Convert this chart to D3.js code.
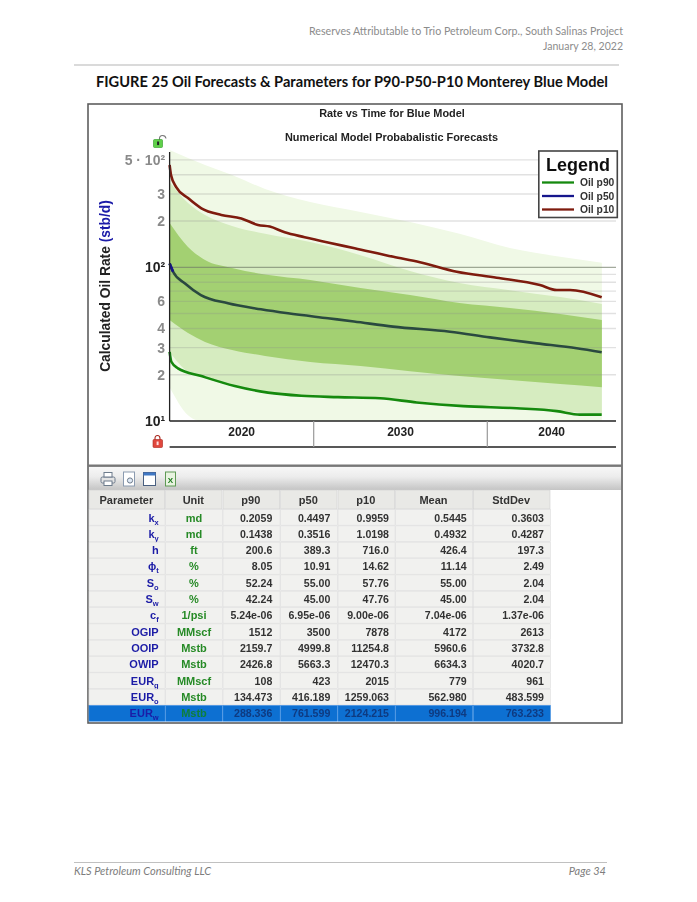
<!DOCTYPE html>
<html><head><meta charset="utf-8">
<script src="https://cdn.jsdelivr.net/npm/d3@7"></script>
<style>html,body{margin:0;padding:0;background:#fff}svg{display:block}
text{font-family:"Liberation Sans",Arial,sans-serif}
.doc{font-family:Lato,"Open Sans",sans-serif}</style></head><body>
<script>
// ---- series data (calendar year, stb/d)
const p10Years=[2021.7,2021.78,2022.09,2022.76,2023.53,2024.68,2025.83,2026.79,2027.47,2028.33,2029.48,2030.82,2032.36,2034.59,2036.12,2038.24,2040.54,2043.03,2044.0,2044.77,2046.59];
const p10Rates=[463,399,331,282,242,219,208,188.5,184,169,157,145,133,117,108,93.6,85.6,76.7,71.2,71.2,63.8];
const p50Years=[2021.7,2021.9,2022.57,2023.5,2025.06,2026.96,2028.52,2030.82,2032.32,2034.57,2037.85,2040.15,2042.85,2045.15,2046.59];
const p50Rates=[106,93.6,78.7,66,58.3,53.3,50.2,46.6,44.4,41.1,38.1,35,32,29.7,28];
const p90Years=[2021.7,2021.8,2022.18,2023.53,2025.45,2027.37,2029.29,2031.4,2033.82,2035.93,2038.62,2041.69,2044,2045.33,2046.59];
const p90Rates=[28.2,24.3,22,19.6,16.9,15.3,14.6,14.3,14.05,13.2,12.5,12.1,11.6,11,11];
// ---- envelope bands
const bandYears=[2021.7,2022.76,2023.74,2025.3,2027.2,2029.8,2032.7,2035.55,2038.4,2041.3,2044.2,2046.6];
const outerTop=[580,514,463,399,323,266,229,197,165,133.5,117,107];
const outerBottom=[16.6,10.9,9.7,9,8.5,8.2,8,7.8,7.6,7.4,7.2,7];
const midTop=[359,262,219,186,165,146,120,94.6,79,71,64,57.7];
const midBottom=[28.1,20.8,19,17.1,15.7,14.5,14.3,13.5,12.7,12.2,11.6,10.9];
const coreTop=[194,135.6,111.6,99,89.8,82.7,73.3,66,58.6,54.4,49.7,45.4];
const coreBottom=[45.4,37.4,32.7,29,26.5,24.2,22.8,21.1,19.6,18.5,17.4,16.6];
// ---- axes
const gridRates=[500,400,300,200,100,90,80,70,60,50,40,30,20];
const yTickValues=[500,300,200,100,60,40,30,20,10];
const yTickLabels=["5 · 10²","3","2","10²","6","4","3","2","10¹"];
const xBoundaries=[2030,2040];
const xLabels=["2020","2030","2040"];
// ---- table
const tableHeaders=["Parameter","Unit","p90","p50","p10","Mean","StdDev"];
const paramNames=["k","k","h","ϕ","S","S","c","OGIP","OOIP","OWIP","EUR","EUR","EUR"];
const paramSubs=["x","y","","t","o","w","f","","","","g","o","w"];
const units=["md","md","ft","%","%","%","1/psi","MMscf","Mstb","Mstb","MMscf","Mstb","Mstb"];
const colP90=["0.2059","0.1438","200.6","8.05","52.24","42.24","5.24e-06","1512","2159.7","2426.8","108","134.473","288.336"];
const colP50=["0.4497","0.3516","389.3","10.91","55.00","45.00","6.95e-06","3500","4999.8","5663.3","423","416.189","761.599"];
const colP10=["0.9959","1.0198","716.0","14.62","57.76","47.76","9.00e-06","7878","11254.8","12470.3","2015","1259.063","2124.215"];
const colMean=["0.5445","0.4932","426.4","11.14","55.00","45.00","7.04e-06","4172","5960.6","6634.3","779","562.980","996.194"];
const colStd=["0.3603","0.4287","197.3","2.49","2.04","2.04","1.37e-06","2613","3732.8","4020.7","961","483.599","763.233"];

const W=697,H=902;
const page=d3.select("body").append("svg").attr("width",W).attr("height",H);
const defs=page.append("defs");
defs.append("filter").attr("id","soft").attr("x",-.02).attr("y",-.02).attr("width",1.04).attr("height",1.04)
  .append("feGaussianBlur").attr("stdDeviation",.35);

// ---- document furniture
const docText=(x,y,s,anchor,size,fill,extra={})=>{
  const t=page.append("text").attr("class","doc").attr("x",x).attr("y",y).attr("text-anchor",anchor)
    .attr("font-size",size).attr("fill",fill).text(s);
  Object.entries(extra).forEach(([k,v])=>t.attr(k,v));return t;};
docText(623,35,"Reserves Attributable to Trio Petroleum Corp., South Salinas Project","end",11.2,"#8c8c8c",{textLength:314,lengthAdjust:"spacingAndGlyphs"});
docText(623,50,"January 28, 2022","end",11.2,"#8c8c8c",{textLength:80,lengthAdjust:"spacingAndGlyphs"});
page.append("line").attr("x1",74).attr("x2",619).attr("y1",65).attr("y2",65).attr("stroke","#b5b5b5");
docText(352,87,"FIGURE 25 Oil Forecasts & Parameters for P90-P50-P10 Monterey Blue Model","middle",15.6,"#111",{"font-weight":700,textLength:512,lengthAdjust:"spacingAndGlyphs"});
page.append("line").attr("x1",74).attr("x2",607).attr("y1",862.5).attr("y2",862.5).attr("stroke","#c0c0c0").attr("stroke-width",1.2);
docText(74,875,"KLS Petroleum Consulting LLC","start",11,"#7d7d7d",{"font-style":"italic"});
docText(606,875,"Page 34","end",11,"#7d7d7d",{"font-style":"italic"});

const svg=page.append("g").attr("filter","url(#soft)");

// ---- panel
svg.append("rect").attr("x",88).attr("y",104).attr("width",534).attr("height",619).attr("fill","#fff").attr("stroke","#5e5e5e").attr("stroke-width",1.6);

// ---- scales
const x=d3.scaleLinear().domain([2030,2040]).range([313.7,487.3]);
const y=d3.scaleLog().domain([10,100]).range([421,267.3]);
const plotL=x(2021.7), axisEnd=616;

defs.append("clipPath").attr("id","plot").append("rect").attr("x",plotL).attr("y",140).attr("width",axisEnd-plotL).attr("height",y(10)-140);

const bands=[[outerTop,outerBottom,"#f0f9e6"],[midTop,midBottom,"#d6ecc0"],[coreTop,coreBottom,"#a3d072"]];
const area=d3.area().x(d=>x(d[0])).y0(d=>y(d[2])).y1(d=>y(d[1])).curve(d3.curveMonotoneX);
svg.append("g").attr("clip-path","url(#plot)").selectAll("path").data(bands).join("path")
  .attr("d",b=>area(bandYears.map((yr,i)=>[yr,b[0][i],b[1][i]]))).attr("fill",b=>b[2]);

// grid
svg.append("g").selectAll("line").data(gridRates).join("line")
  .attr("x1",plotL).attr("x2",axisEnd).attr("y1",d=>y(d)).attr("y2",d=>y(d))
  .attr("stroke",d=>d===100?"#6f7a66":"#8a8a8a").attr("stroke-opacity",d=>d===100?.8:.26).attr("stroke-width",d=>d===100?1:1.4);

// lines
const line=d3.line().x(d=>x(d[0])).y(d=>y(d[1])).curve(d3.curveMonotoneX);
const seriesDefs=[[p90Years,p90Rates,"#12890f"],[p50Years,p50Rates,"#2b4a3f"],[p10Years,p10Rates,"#7e1a10"]];
svg.append("g").selectAll("path").data(seriesDefs).join("path")
  .attr("d",s=>line(s[0].map((yr,i)=>[yr,s[1][i]]))).attr("fill","none").attr("stroke",s=>s[2]).attr("stroke-width",2.6);
// blue start of the p50 curve
svg.append("path").attr("d",line(p50Years.slice(0,2).map((yr,i)=>[yr,p50Rates[i]]))).attr("fill","none").attr("stroke","#14148a").attr("stroke-width",2.6);

// y axis
const yAxis=d3.axisLeft(d3.scaleLog().domain(y.domain()).range(y.range())).tickValues(yTickValues)
  .tickSize(0).tickPadding(4.5).tickFormat((d,i)=>yTickLabels[i]);
const gy=svg.append("g").attr("transform",`translate(${plotL},0)`).call(yAxis);
gy.select(".domain").remove();
gy.selectAll("text").attr("font-size",14).attr("font-weight",700).attr("font-family",'"Liberation Sans",sans-serif')
  .attr("fill",(d)=>d===100||d===10?"#222":"#8a8a8a").attr("dx",0);
svg.append("line").attr("x1",plotL).attr("x2",plotL).attr("y1",152).attr("y2",y(10)).attr("stroke","#222").attr("stroke-width",1.3);

// x axis
const xBand=[plotL,...xBoundaries.map(x),axisEnd];
svg.append("line").attr("x1",plotL).attr("x2",axisEnd).attr("y1",y(10)).attr("y2",y(10)).attr("stroke","#222").attr("stroke-width",1.3);
svg.append("line").attr("x1",plotL).attr("x2",axisEnd).attr("y1",447).attr("y2",447).attr("stroke","#222").attr("stroke-width",1.3);
svg.append("g").selectAll("line").data(xBoundaries).join("line").attr("x1",x).attr("x2",x).attr("y1",y(10)).attr("y2",447).attr("stroke","#999").attr("stroke-width",1.2);
svg.append("g").selectAll("text").data(xLabels).join("text")
  .attr("x",(d,i)=>(xBand[i]+xBand[i+1])/2).attr("y",436).attr("text-anchor","middle")
  .attr("font-size",12).attr("font-weight",700).attr("fill","#222").text(d=>d);

// titles
const bold=(xx,yy,s,size,fill,anchor="middle")=>svg.append("text").attr("x",xx).attr("y",yy).attr("text-anchor",anchor).attr("font-size",size).attr("font-weight",700).attr("fill",fill).text(s);
bold(392,117,"Rate vs Time for Blue Model",10.9,"#222");
bold(391.5,141,"Numerical Model Probabalistic Forecasts",10.9,"#222");
const yt=svg.append("text").attr("transform","translate(110,286) rotate(-90)").attr("text-anchor","middle").attr("font-size",13.8).attr("font-weight",700).attr("fill","#222");
yt.append("tspan").text("Calculated Oil Rate ");
yt.append("tspan").attr("fill","#1a1aa8").text("(stb/d)");

// legend
const legendNames=["Oil p90","Oil p50","Oil p10"];
const legendColors=["#12890f","#12128c","#7e1a10"];
const lg=svg.append("g");
lg.append("rect").attr("x",538.8).attr("y",151).attr("width",78.5).attr("height",66.5).attr("fill","#fff").attr("stroke","#444").attr("stroke-width",1.6);
lg.append("text").attr("x",578).attr("y",171).attr("text-anchor","middle").attr("font-size",18).attr("font-weight",700).attr("fill","#111").text("Legend");
legendNames.forEach((n,i)=>{const ly=182.5+i*13.5;
  lg.append("line").attr("x1",542).attr("x2",574).attr("y1",ly).attr("y2",ly).attr("stroke",legendColors[i]).attr("stroke-width",2.3);
  lg.append("text").attr("x",580).attr("y",ly+3.6).attr("font-size",10.3).attr("font-weight",700).attr("fill","#333").text(n);});

// lock icons
function lock(px,py,body,stroke,open){
  const g=svg.append("g").attr("transform",`translate(${px},${py})`);
  g.append("path").attr("d",open?"M6 5 V3 Q6 0 9 0 Q12 0 12.5 3":"M2 5 V3 Q2 0 4.5 0 Q7 0 7 3 V5").attr("fill","none").attr("stroke",open?"#777":stroke).attr("stroke-width",1.1);
  g.append("rect").attr("x",0).attr("y",4).attr("width",open?9:9.5).attr("height",8).attr("rx",1).attr("fill",body).attr("stroke",stroke).attr("stroke-width",.6);
  g.append("rect").attr("x",3.6).attr("y",6).attr("width",2).attr("height",3.6).attr("fill",open?"#222":"#fdd");
}
lock(153.5,135.5,"#5fd04a","#2c9a22",true);
lock(153,435.5,"#e0473c","#a8251c",false);

// ---- toolbar
const grad=defs.append("linearGradient").attr("id","bar").attr("x1",0).attr("x2",0).attr("y1",0).attr("y2",1);
grad.append("stop").attr("offset",0).attr("stop-color","#f8f8f8");
grad.append("stop").attr("offset",.45).attr("stop-color","#ececec");
grad.append("stop").attr("offset",1).attr("stop-color","#c4c4c4");
svg.append("rect").attr("x",89).attr("y",466).attr("width",532).attr("height",24).attr("fill","url(#bar)");
svg.append("rect").attr("x",88).attr("y",464.5).attr("width",534).attr("height",2.4).attr("fill","#777");
const tb=svg.append("g");
tb.append("rect").attr("x",101).attr("y",477).attr("width",14).attr("height",6).attr("rx",1.5).attr("fill","#e4e4e4").attr("stroke","#6d7b8c");
tb.append("rect").attr("x",104).attr("y",472.5).attr("width",8).attr("height",4.5).attr("fill","#fff").attr("stroke","#6d7b8c");
tb.append("rect").attr("x",104).attr("y",481).attr("width",8).attr("height",4.5).attr("fill","#fff").attr("stroke","#6d7b8c");
tb.append("rect").attr("x",123.5).attr("y",472).attr("width",11).attr("height",14).attr("fill","#fff").attr("stroke","#8b9bb0");
tb.append("circle").attr("cx",130).attr("cy",480.5).attr("r",2.6).attr("fill","#dfe9f5").attr("stroke","#6d7b8c");
tb.append("rect").attr("x",143.5).attr("y",472.5).attr("width",12).attr("height",13).attr("fill","#fff").attr("stroke","#4a5f80");
tb.append("rect").attr("x",143.5).attr("y",472.5).attr("width",12).attr("height",3).attr("fill","#3f78c4");
tb.append("rect").attr("x",165.5).attr("y",472).attr("width",10).attr("height",14).attr("fill","#e8f3e0").attr("stroke","#5f9a55");
tb.append("text").attr("x",170.5).attr("y",483).attr("text-anchor","middle").attr("font-size",8).attr("font-weight",700).attr("fill","#1c7a1c").text("X");

// ---- table
const colEdges=[89,165.7,223,280.7,338,395.7,473.3,551];
const rowH=16.33, headH=19.5, top0=490;
const rowCount=paramNames.length;
const rowTop=i=>top0+headH+i*rowH;
const cols=[colP90,colP50,colP10,colMean,colStd];
const colRight=[272.3,330.3,389,466.7,544];

svg.append("g").selectAll("rect").data(tableHeaders).join("rect")
  .attr("x",(d,i)=>colEdges[i]).attr("y",top0).attr("width",(d,i)=>colEdges[i+1]-colEdges[i]-1).attr("height",headH-.5)
  .attr("fill","#e9e9e6").attr("stroke","#cfcfcf").attr("stroke-width",.6);
svg.append("g").selectAll("text").data(tableHeaders).join("text")
  .attr("x",(d,i)=>(colEdges[i]+colEdges[i+1])/2-1).attr("y",top0+14).attr("text-anchor","middle")
  .attr("font-size",11).attr("font-weight",700).attr("fill","#333").text(d=>d);

const rows=svg.append("g").selectAll("g").data(d3.range(rowCount)).join("g");
rows.selectAll("rect").data(r=>tableHeaders.map((h,c)=>({r,c}))).join("rect")
  .attr("x",d=>colEdges[d.c]).attr("y",d=>rowTop(d.r)).attr("width",d=>colEdges[d.c+1]-colEdges[d.c]-.6).attr("height",rowH-.6)
  .attr("fill",d=>d.r===rowCount-1?"#0c6fd2":"#f1f1ef").attr("stroke",d=>d.r===rowCount-1?"#3a8ae0":"#dcdcdc").attr("stroke-width",.6);

const base=r=>rowTop(r)+12;
rows.append("text").attr("x",158.7).attr("y",base).attr("text-anchor","end").attr("font-size",11).attr("font-weight",700).attr("fill","#1c1ca6")
  .each(function(r){const t=d3.select(this);t.append("tspan").text(paramNames[r]);
    if(paramSubs[r])t.append("tspan").attr("font-size",7.5).attr("dy",3).text(paramSubs[r]);});
rows.append("text").attr("x",194).attr("y",base).attr("text-anchor","middle").attr("font-size",11).attr("font-weight",700)
  .attr("fill",r=>r===rowCount-1?"#0f7f3a":"#268a26").text(r=>units[r]);
cols.forEach((col,c)=>{
  rows.append("text").attr("x",colRight[c]).attr("y",base).attr("text-anchor","end").attr("font-size",10.6).attr("font-weight",700)
    .attr("fill",r=>r===rowCount-1?"#0a3a80":"#333").text(r=>col[r]);
});
</script></body></html>
